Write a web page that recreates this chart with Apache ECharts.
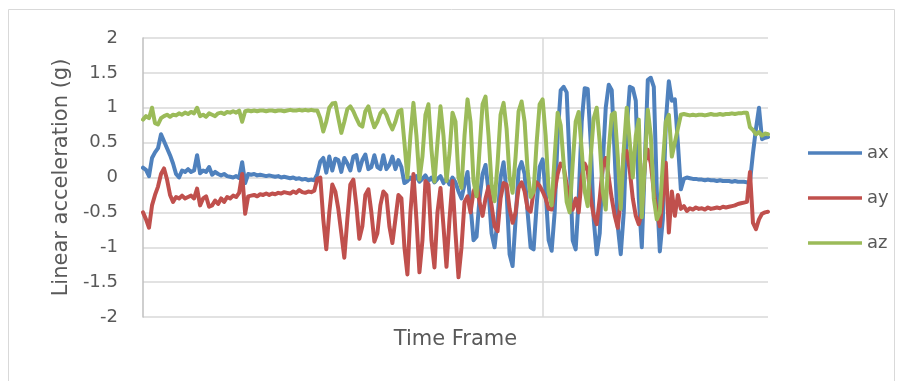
<!DOCTYPE html>
<html><head><meta charset="utf-8">
<script src="https://cdn.jsdelivr.net/npm/echarts@6/dist/echarts.min.js"></script>
<style>html,body{margin:0;padding:0;background:#fff}#c{width:903px;height:381px}</style>
</head><body><div id="c"></div>
<script>
const seriesNames = ['ax', 'ay', 'az'];
const seriesColors = ['#4F81BD', '#C0504D', '#9BBB59'];
const ax = [
0.14,0.11,0.02,0.28,0.36,0.42,0.62,0.52,0.42,0.32,
0.2,0.05,0.0,0.1,0.08,0.12,0.08,0.1,0.32,0.06,
0.1,0.08,0.15,0.04,0.08,0.05,0.03,0.05,0.02,0.01,
0.0,0.02,-0.01,0.22,-0.08,0.05,0.04,0.05,0.03,0.04,
0.03,0.02,0.03,0.02,0.01,0.02,0.0,0.01,0.0,-0.01,
0.0,-0.02,-0.01,-0.03,-0.02,-0.04,-0.03,-0.04,0.05,0.23,
0.28,0.07,0.3,0.1,0.27,0.25,0.08,0.28,0.2,0.1,
0.3,0.32,0.1,0.25,0.33,0.12,0.15,0.32,0.15,0.12,
0.32,0.12,0.18,0.3,0.12,0.25,0.15,-0.08,-0.05,0.0,
-0.05,0.02,-0.06,-0.02,0.03,-0.05,0.0,-0.07,-0.02,0.02,
-0.08,-0.02,-0.1,0.0,-0.07,-0.2,-0.3,-0.1,0.08,-0.4,
-0.9,-0.85,-0.3,0.05,0.18,-0.2,-0.8,-1.0,-0.6,0.0,
0.22,-0.2,-1.1,-1.27,-0.6,0.1,0.22,0.05,-0.5,-1.0,
-1.03,-0.4,0.15,0.26,-0.2,-0.9,-1.05,-0.5,0.6,1.25,
1.3,1.22,0.2,-0.9,-1.03,-0.3,0.8,1.28,1.27,0.5,
-0.6,-1.1,-0.8,0.2,1.0,1.33,1.25,0.3,-0.7,-1.1,
-0.5,0.7,1.3,1.28,1.1,-0.3,-1.0,0.2,1.4,1.43,
1.3,-0.2,-1.06,-0.6,0.8,1.38,1.1,1.12,0.5,-0.17,
-0.02,0.0,-0.01,-0.02,-0.02,-0.03,-0.03,-0.04,-0.03,-0.04,
-0.04,-0.05,-0.04,-0.05,-0.05,-0.05,-0.06,-0.05,-0.06,-0.06,
-0.06,-0.07,-0.06,0.35,0.7,1.0,0.55,0.57,0.58
];
const ay = [
-0.5,-0.6,-0.72,-0.4,-0.25,-0.13,0.05,0.13,-0.03,-0.25,
-0.35,-0.28,-0.3,-0.26,-0.3,-0.28,-0.26,-0.3,-0.16,-0.4,
-0.3,-0.27,-0.42,-0.4,-0.33,-0.38,-0.3,-0.35,-0.28,-0.3,
-0.26,-0.28,-0.22,0.05,-0.52,-0.27,-0.26,-0.25,-0.27,-0.24,
-0.25,-0.23,-0.25,-0.23,-0.24,-0.22,-0.23,-0.21,-0.22,-0.23,
-0.2,-0.22,-0.18,-0.21,-0.22,-0.2,-0.21,-0.19,-0.02,0.0,
-0.6,-1.03,-0.5,-0.1,-0.2,-0.45,-0.8,-1.15,-0.6,-0.1,
-0.03,-0.4,-0.88,-0.7,-0.25,-0.17,-0.5,-0.92,-0.8,-0.4,
-0.2,-0.25,-0.7,-0.94,-0.6,-0.25,-0.3,-1.0,-1.39,-0.5,
0.05,-0.6,-1.36,-0.9,-0.05,-0.1,-0.9,-1.29,-0.5,-0.15,
-0.7,-1.28,-0.6,-0.05,-0.8,-1.43,-1.0,-0.35,-0.27,-0.5,
-0.2,-0.1,-0.35,-0.55,-0.3,-0.13,-0.4,-0.7,-0.77,-0.3,
-0.08,-0.1,-0.45,-0.65,-0.5,-0.15,-0.07,-0.2,-0.45,-0.49,
-0.2,-0.07,-0.12,-0.2,-0.3,-0.45,-0.46,-0.2,0.05,0.2,
0.15,-0.1,-0.35,-0.46,-0.3,-0.5,0.0,0.2,0.1,-0.3,
-0.55,-0.67,-0.3,0.15,0.28,0.0,-0.3,-0.55,-0.72,-0.3,
0.35,0.38,0.1,-0.3,-0.55,-0.67,-0.5,0.2,0.4,0.2,
-0.2,-0.5,-0.7,-0.3,0.21,-0.79,-0.2,-0.55,-0.25,-0.45,
-0.41,-0.48,-0.44,-0.46,-0.43,-0.45,-0.44,-0.46,-0.43,-0.45,
-0.44,-0.43,-0.44,-0.42,-0.43,-0.42,-0.41,-0.4,-0.38,-0.37,
-0.36,-0.35,0.08,-0.65,-0.74,-0.6,-0.52,-0.5,-0.49
];
const az = [
0.83,0.88,0.85,1.0,0.78,0.76,0.85,0.88,0.9,0.87,
0.9,0.89,0.92,0.9,0.93,0.91,0.94,0.92,1.0,0.88,
0.9,0.87,0.92,0.9,0.88,0.92,0.93,0.91,0.94,0.93,
0.95,0.93,0.96,0.8,0.95,0.96,0.95,0.96,0.95,0.96,
0.96,0.95,0.96,0.96,0.95,0.96,0.96,0.95,0.96,0.97,
0.96,0.96,0.97,0.96,0.97,0.96,0.97,0.96,0.96,0.85,
0.66,0.8,1.0,1.06,1.07,0.85,0.64,0.8,0.98,1.02,
0.95,0.85,0.76,0.73,0.95,1.02,0.85,0.72,0.8,0.92,
0.97,0.9,0.78,0.69,0.8,0.95,0.97,0.5,0.0,0.6,
1.07,0.6,-0.03,0.3,0.9,1.05,0.4,-0.06,0.5,1.02,
0.6,-0.05,0.35,0.93,0.8,0.0,-0.15,0.6,1.12,0.8,
-0.05,-0.27,0.4,1.05,1.16,0.6,-0.1,-0.34,0.2,0.9,
1.07,0.7,0.0,-0.22,0.3,0.95,1.09,0.8,0.1,-0.28,
-0.2,0.5,1.05,1.12,0.6,-0.2,-0.4,0.3,0.93,0.75,
0.2,-0.35,-0.5,0.2,0.8,0.94,0.4,-0.2,-0.41,0.3,
0.85,1.0,0.5,-0.2,-0.46,0.4,0.9,0.93,0.3,-0.45,
0.4,1.0,0.5,0.0,0.6,0.83,-0.57,0.2,0.97,0.6,
-0.3,-0.6,-0.5,0.2,0.8,0.9,0.3,0.5,0.7,0.9,
0.91,0.9,0.89,0.9,0.89,0.9,0.9,0.89,0.9,0.91,
0.9,0.9,0.91,0.9,0.91,0.91,0.92,0.91,0.92,0.92,
0.93,0.93,0.72,0.68,0.62,0.65,0.6,0.63,0.62
];
const yMin = -2, yMax = 2, yStep = 0.5;
const xTitle = 'Time Frame';
const yTitle = 'Linear acceleration (g)';
const gridFrameIndex = 133;

const frames = ax.map((_, i) => String(i + 1));
const dataSets = [ax, ay, az];
const legendTops = [144, 189, 234];
const FONT = '"DejaVu Sans", sans-serif';
const TXT = '#595959';

const chart = echarts.init(document.getElementById('c'), null, {renderer: 'canvas'});
chart.setOption({
  animation: false,
  backgroundColor: '#fff',
  graphic: [{
    type: 'rect', silent: true, z: -10,
    shape: {x: 8.5, y: 9.5, width: 886, height: 400},
    style: {fill: 'none', stroke: '#D9D9D9', lineWidth: 1}
  }],
  grid: {left: 143, right: 135, top: 38, bottom: 64, containLabel: false},
  xAxis: {
    type: 'category', data: frames, boundaryGap: false,
    name: xTitle, nameLocation: 'middle', nameGap: 12,
    nameTextStyle: {color: TXT, fontSize: 21, fontFamily: FONT},
    axisLine: {show: false}, axisTick: {show: false}, axisLabel: {show: false},
    splitLine: {show: true, interval: (idx) => idx === gridFrameIndex, lineStyle: {color: '#D9D9D9', width: 1.5}}
  },
  yAxis: {
    type: 'value', min: yMin, max: yMax, interval: yStep,
    name: yTitle, nameLocation: 'middle', nameGap: 71, nameRotate: 90,
    nameTextStyle: {color: TXT, fontSize: 21, fontFamily: FONT},
    axisLine: {show: true, lineStyle: {color: '#BFBFBF', width: 1.5}},
    axisTick: {show: false},
    axisLabel: {color: TXT, fontSize: 18, fontFamily: FONT, margin: 25},
    splitLine: {show: true, lineStyle: {color: '#D9D9D9', width: 1.5}}
  },
  legend: seriesNames.map((n, i) => ({
    data: [n], orient: 'vertical', left: 808, top: legendTops[i], padding: 0,
    icon: 'rect', itemWidth: 54, itemHeight: 3.5, itemGap: 5,
    textStyle: {color: TXT, fontSize: 18, fontFamily: FONT},
    selectedMode: false
  })),
  series: seriesNames.map((n, i) => ({
    name: n, type: 'line', data: dataSets[i], showSymbol: false, symbol: 'none',
    lineStyle: {color: seriesColors[i], width: 4, join: 'round', cap: 'round'},
    itemStyle: {color: seriesColors[i]},
    emphasis: {disabled: true}
  }))
});
</script>
</body></html>
